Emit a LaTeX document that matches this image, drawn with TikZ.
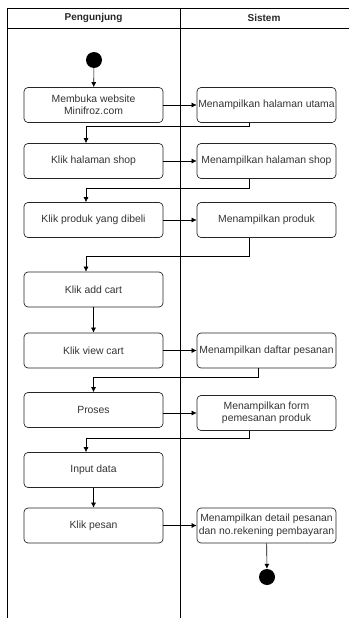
\documentclass[tikz,border=0pt]{standalone}
\usepackage{fontspec}
\setmainfont{Liberation Sans}
\usetikzlibrary{arrows.meta}

\tikzset{
  act/.style={draw=black!85, line width=0.7pt, rounded corners=4pt, minimum width=139pt, minimum height=35pt, align=center, text=black!80, font=\fontsize{10.4}{12.5}\selectfont, inner sep=1pt},
  dot/.style={circle, fill=black, minimum size=16pt, inner sep=0pt},
  flow/.style={-{Latex[length=5pt,width=5pt]}, black, line width=0.6pt},
  lane/.style={black, line width=0.9pt}
}

\begin{document}
\begin{tikzpicture}[x=1pt, y=-1pt]
\useasboundingbox (0,0) rectangle (349,618);

% Swimlanes
\draw[lane] (7,618) -- (7,8) -- (349,8);
\draw[lane] (7,28) -- (349,28);
\draw[lane] (180,8) -- (180,618);
\node[font=\bfseries\fontsize{10}{12}\selectfont, text=black!85] (hp) at (93.5,18) {Pengunjung};
\node[font=\bfseries\fontsize{10}{12}\selectfont, text=black!85] (hs) at (264,18) {Sistem};

% Start and end
\node[dot] (start) at (94,60) {};
\node[dot] (end) at (267,577) {};

% Pengunjung actions
\node[act] (p1) at (93.5,105) {Membuka website\\Minifroz.com};
\node[act] (p2) at (93.5,161) {Klik halaman shop};
\node[act] (p3) at (93.5,220) {Klik produk yang dibeli};
\node[act] (p4) at (93.5,289.5) {Klik add cart};
\node[act] (p5) at (93.5,350.5) {Klik view cart};
\node[act] (p6) at (93.5,410) {Proses};
\node[act] (p7) at (93.5,470) {Input data};
\node[act] (p8) at (93.5,525.5) {Klik pesan};

% Sistem actions
\node[act] (s1) at (266.5,105) {Menampilkan halaman utama};
\node[act] (s2) at (266.5,161) {Menampilkan halaman shop};
\node[act] (s3) at (266.5,220) {Menampilkan produk};
\node[act] (s5) at (266.5,350.5) {Menampilkan daftar pesanan};
\node[act] (s6) at (266.5,413) {Menampilkan form\\pemesanan produk};
\node[act] (s8) at (266.5,525.5) {Menampilkan detail pesanan\\dan no.rekening pembayaran};

% Flows
\draw[flow] (start) -- (p1);
\draw[flow] (p1) -- (s1);
\draw[flow] ([xshift=-17.5pt]s1.south) -- ++(0,3) -| ([xshift=-7.5pt]p2.north);
\draw[flow] (p2) -- (s2);
\draw[flow] ([xshift=-17.5pt]s2.south) -- ++(0,9) -| ([xshift=-7.5pt]p3.north);
\draw[flow] (p3) -- (s3);
\draw[flow] ([xshift=-17.5pt]s3.south) -- ++(0,18) -| ([xshift=-7.5pt]p4.north);
\draw[flow] (p4) -- (p5);
\draw[flow] (p5) -- (s5);
\draw[flow] ([xshift=-8.5pt]s5.south) -- ++(0,9) -| (p6.north);
\draw[flow] (p6.east |- s6.west) -- (s6.west);
\draw[flow] ([xshift=-17.5pt]s6.south) -- ++(0,7) -| ([xshift=-7.5pt]p7.north);
\draw[flow] (p7) -- (p8);
\draw[flow] (p8) -- (s8);
\draw[flow] (s8) -- (end);

\end{tikzpicture}
\end{document}
